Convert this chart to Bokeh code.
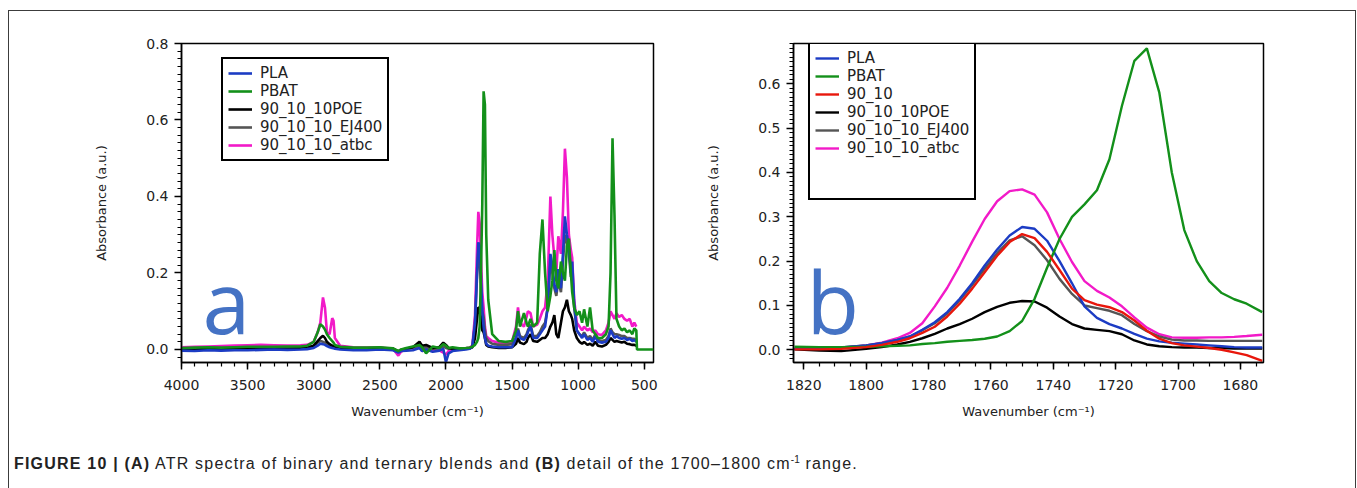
from bokeh.plotting import figure
from bokeh.models import (Range1d, Legend, LegendItem, Label, Div,
                          SingleIntervalTicker, PrintfTickFormatter)
from bokeh.layouts import row, column
from bokeh.embed import file_html
from bokeh.resources import INLINE

# ---------------- panel (a): full ATR spectra ----------------
wn_a = [4000, 3900, 3800, 3700, 3600, 3500, 3400, 3300, 3200, 3100, 3050, 3000,
        2970, 2950, 2930, 2915, 2900, 2880, 2860, 2850, 2840, 2800, 2700, 2600,
        2500, 2400, 2360, 2340, 2300, 2250, 2200, 2180, 2150, 2100, 2050, 2020,
        2000, 1980, 1950, 1900, 1850, 1820, 1800, 1780, 1765, 1755, 1745, 1735,
        1725, 1715, 1705, 1695, 1680, 1650, 1600, 1550, 1500, 1470, 1455, 1440,
        1410, 1390, 1380, 1360, 1340, 1310, 1290, 1270, 1250, 1230, 1210, 1195,
        1180, 1165, 1150, 1130, 1115, 1100, 1085, 1070, 1055, 1045, 1030, 1010,
        990, 970, 955, 930, 910, 890, 870, 850, 820, 790, 770, 755, 740, 725,
        710, 690, 670, 650, 630, 610, 590, 575, 560]

pla_a = [-0.003, -0.004, -0.002, -0.003, -0.002, -0.002, -0.001, 0.000, -0.001, 0.000, 0.001, 0.004,
         0.010, 0.015, 0.014, 0.012, 0.009, 0.006, 0.004, 0.003, 0.002, 0.000, -0.002, -0.002,
         0.000, -0.002, -0.008, -0.004, -0.003, -0.002, 0.004, -0.004, 0.000, -0.006, -0.003, 0.002,
         -0.033, -0.010, -0.004, -0.002, 0.000, 0.002, 0.008, 0.070, 0.200, 0.280, 0.270, 0.190,
         0.100, 0.060, 0.030, 0.015, 0.010, 0.008, 0.006, 0.006, 0.006, 0.030, 0.050, 0.030,
         0.025, 0.035, 0.045, 0.060, 0.030, 0.030, 0.040, 0.050, 0.060, 0.110, 0.250, 0.220,
         0.170, 0.150, 0.210, 0.160, 0.250, 0.348, 0.300, 0.270, 0.200, 0.230, 0.120, 0.050,
         0.040, 0.030, 0.040, 0.025, 0.030, 0.020, 0.035, 0.020, 0.018, 0.020, 0.030, 0.050, 0.040, 0.030,
         0.035, 0.030, 0.028, 0.030, 0.025, 0.028, 0.022, 0.025, 0.020]

pbat_a = [0.004, 0.005, 0.006, 0.005, 0.006, 0.007, 0.007, 0.007, 0.008, 0.008, 0.010, 0.020,
          0.045, 0.066, 0.060, 0.052, 0.040, 0.030, 0.022, 0.018, 0.012, 0.007, 0.005, 0.005,
          0.006, 0.003, -0.004, 0.000, 0.004, 0.008, 0.012, 0.006, -0.010, 0.008, 0.004, 0.014,
          0.010, 0.004, 0.006, 0.003, 0.004, 0.005, 0.007, 0.012, 0.020, 0.030, 0.060, 0.200,
          0.380, 0.675, 0.640, 0.300, 0.130, 0.040, 0.022, 0.020, 0.022, 0.050, 0.100, 0.060,
          0.095, 0.070, 0.060, 0.080, 0.060, 0.070, 0.250, 0.340, 0.200, 0.100, 0.140, 0.180,
          0.260, 0.180, 0.160, 0.230, 0.200, 0.180, 0.270, 0.290, 0.200, 0.150, 0.110, 0.090,
          0.100, 0.070, 0.105, 0.060, 0.110, 0.050, 0.040, 0.030, 0.030, 0.040, 0.060, 0.200, 0.552, 0.350,
          0.080, 0.060, 0.050, 0.055, 0.045, 0.050, 0.040, 0.055, 0.050]
wn_a_tail = [555, 430]
pbat_a_tail = [0.0, 0.0]

poe_a = [0.002, 0.001, 0.002, 0.001, 0.002, 0.003, 0.003, 0.002, 0.001, 0.003, 0.004, 0.010,
         0.022, 0.030, 0.036, 0.030, 0.020, 0.014, 0.010, 0.008, 0.006, 0.004, 0.003, 0.002,
         0.004, 0.002, -0.006, -0.002, 0.002, 0.006, 0.020, 0.010, 0.012, 0.004, 0.006, 0.018,
         0.012, 0.004, 0.002, 0.001, 0.002, 0.003, 0.006, 0.030, 0.080, 0.110, 0.108, 0.080,
         0.050, 0.045, 0.030, 0.012, 0.008, 0.006, 0.004, 0.004, 0.006, 0.015, 0.030, 0.018,
         0.014, 0.020, 0.030, 0.040, 0.022, 0.020, 0.025, 0.030, 0.030, 0.040, 0.060, 0.070,
         0.090, 0.040, 0.030, 0.070, 0.100, 0.110, 0.130, 0.100, 0.090, 0.080, 0.050, 0.030,
         0.020, 0.015, 0.020, 0.012, 0.015, 0.010, 0.020, 0.010, 0.008, 0.012, 0.020, 0.030, 0.025, 0.020,
         0.022, 0.020, 0.018, 0.020, 0.015, 0.014, 0.012, 0.012, 0.010]

ej400_a = [0.001, 0.002, 0.003, 0.002, 0.003, 0.004, 0.004, 0.004, 0.004, 0.005, 0.006, 0.010,
           0.018, 0.022, 0.020, 0.018, 0.014, 0.010, 0.008, 0.007, 0.006, 0.004, 0.003, 0.003,
           0.004, 0.002, -0.005, -0.001, 0.002, 0.005, 0.010, 0.004, 0.006, 0.002, 0.003, 0.008,
           0.004, 0.002, 0.002, 0.002, 0.002, 0.003, 0.008, 0.065, 0.190, 0.255, 0.240, 0.160,
           0.100, 0.085, 0.050, 0.030, 0.022, 0.015, 0.012, 0.012, 0.014, 0.030, 0.055, 0.035,
           0.030, 0.040, 0.050, 0.065, 0.035, 0.035, 0.045, 0.060, 0.070, 0.110, 0.230, 0.200,
           0.160, 0.140, 0.180, 0.150, 0.230, 0.300, 0.280, 0.250, 0.190, 0.200, 0.110, 0.050,
           0.040, 0.035, 0.045, 0.030, 0.035, 0.025, 0.040, 0.025, 0.022, 0.025, 0.035, 0.055, 0.045, 0.040,
           0.040, 0.038, 0.035, 0.035, 0.030, 0.030, 0.028, 0.028, 0.025]

atbc_a = [0.006, 0.007, 0.008, 0.009, 0.010, 0.011, 0.012, 0.011, 0.010, 0.011, 0.012, 0.020,
          0.045, 0.070, 0.136, 0.110, 0.045, 0.040, 0.082, 0.075, 0.030, 0.010, 0.006, 0.005,
          0.005, 0.002, -0.016, -0.006, 0.002, 0.004, 0.006, -0.004, 0.002, -0.002, -0.002, -0.008,
          -0.014, -0.004, 0.000, 0.002, 0.003, 0.005, 0.010, 0.090, 0.260, 0.360, 0.330, 0.240,
          0.150, 0.110, 0.060, 0.035, 0.030, 0.022, 0.018, 0.016, 0.020, 0.060, 0.110, 0.070,
          0.060, 0.085, 0.100, 0.095, 0.060, 0.065, 0.080, 0.100, 0.110, 0.180, 0.400, 0.300,
          0.240, 0.200, 0.296, 0.250, 0.360, 0.525, 0.450, 0.300, 0.260, 0.240, 0.130, 0.070,
          0.060, 0.050, 0.060, 0.050, 0.055, 0.045, 0.050, 0.040, 0.038, 0.050, 0.070, 0.100, 0.090, 0.080,
          0.095, 0.085, 0.090, 0.080, 0.075, 0.080, 0.060, 0.070, 0.060]

# ---------------- panel (b): carbonyl region ----------------
wn_b = [1823, 1815, 1808, 1800, 1795, 1790, 1786, 1782, 1778, 1774, 1770, 1766,
        1762, 1758, 1754, 1750, 1746, 1742, 1738, 1734, 1730, 1726, 1722, 1718,
        1714, 1710, 1706, 1702, 1698, 1694, 1690, 1686, 1682, 1678, 1673]

pla_b = [0.002, 0.003, 0.005, 0.010, 0.015, 0.022, 0.030, 0.045, 0.062, 0.085, 0.115, 0.150,
         0.190, 0.226, 0.258, 0.277, 0.273, 0.246, 0.200, 0.150, 0.098, 0.072, 0.058, 0.048,
         0.036, 0.025, 0.019, 0.016, 0.014, 0.012, 0.010, 0.008, 0.006, 0.005, 0.005]
pbat_b = [0.007, 0.006, 0.006, 0.007, 0.008, 0.009, 0.010, 0.013, 0.015, 0.018, 0.020, 0.022,
          0.025, 0.030, 0.042, 0.065, 0.115, 0.185, 0.250, 0.300, 0.328, 0.360, 0.430, 0.550,
          0.652, 0.680, 0.580, 0.400, 0.270, 0.200, 0.155, 0.128, 0.114, 0.104, 0.085]
b9010_b = [0.001, 0.001, 0.002, 0.006, 0.011, 0.018, 0.026, 0.038, 0.052, 0.075, 0.104, 0.138,
           0.175, 0.212, 0.243, 0.261, 0.252, 0.221, 0.180, 0.138, 0.112, 0.102, 0.096, 0.085,
           0.066, 0.043, 0.025, 0.015, 0.010, 0.007, 0.004, 0.000, -0.006, -0.012, -0.025]
poe_b = [0.001, -0.002, -0.003, 0.002, 0.006, 0.012, 0.018, 0.026, 0.036, 0.048, 0.058, 0.070,
         0.085, 0.097, 0.106, 0.110, 0.109, 0.095, 0.075, 0.058, 0.048, 0.045, 0.042, 0.035,
         0.021, 0.012, 0.008, 0.006, 0.005, 0.005, 0.004, 0.004, 0.003, 0.003, 0.003]
ej400_b = [0.002, 0.003, 0.005, 0.010, 0.015, 0.022, 0.030, 0.044, 0.060, 0.082, 0.112, 0.146,
           0.183, 0.218, 0.247, 0.256, 0.236, 0.202, 0.160, 0.126, 0.100, 0.094, 0.088, 0.078,
           0.058, 0.042, 0.030, 0.023, 0.021, 0.021, 0.020, 0.020, 0.020, 0.020, 0.020]
atbc_b = [0.002, 0.003, 0.004, 0.010, 0.016, 0.026, 0.038, 0.060, 0.098, 0.140, 0.190, 0.244,
          0.295, 0.335, 0.358, 0.362, 0.350, 0.310, 0.250, 0.198, 0.155, 0.133, 0.118, 0.098,
          0.073, 0.050, 0.035, 0.028, 0.027, 0.027, 0.028, 0.028, 0.029, 0.031, 0.034]

C_PLA, C_PBAT, C_POE, C_EJ, C_ATBC, C_9010 = "#1c3cc4", "#13901a", "#000000", "#555555", "#f21ac8", "#e8170c"
FONT = "DejaVu Sans"


def style(p, xint, xminor, yint, yminor):
    p.grid.visible = False
    p.outline_line_color = "black"
    p.outline_line_width = 1.5
    p.background_fill_color = "white"
    p.border_fill_color = "white"
    p.xaxis.ticker = SingleIntervalTicker(interval=xint, num_minor_ticks=xminor)
    p.yaxis.ticker = SingleIntervalTicker(interval=yint, num_minor_ticks=yminor)
    p.yaxis.formatter = PrintfTickFormatter(format="%.1f")
    for ax in (p.xaxis[0], p.yaxis[0]):
        ax.axis_line_color = "black"
        ax.axis_line_width = 1.5
        ax.major_tick_line_color = "black"
        ax.major_tick_line_width = 1.5
        ax.minor_tick_line_color = "black"
        ax.minor_tick_line_width = 1.2
        ax.major_tick_in = 0
        ax.major_tick_out = 7
        ax.minor_tick_in = 0
        ax.minor_tick_out = 4
        ax.major_label_text_font = FONT
        ax.major_label_text_font_size = "14px"
        ax.major_label_text_color = "#222222"
        ax.axis_label_text_font = FONT
        ax.axis_label_text_font_size = "13px"
        ax.axis_label_text_font_style = "normal"
        ax.axis_label_text_color = "#222222"
    p.xaxis.axis_label = "Wavenumber (cm\u207b\u00b9)"
    p.yaxis.axis_label = "Absorbance (a.u.)"
    p.xaxis.major_label_standoff = 10
    p.xaxis.axis_label_standoff = 11
    p.yaxis.major_label_standoff = 6
    p.yaxis.axis_label_standoff = 34


# ---- figure a ----
p1 = figure(width=700, height=430, output_backend="svg", toolbar_location=None,
            x_range=Range1d(4000, 430), y_range=Range1d(-0.034, 0.8),
            min_border_left=181, min_border_right=47, min_border_top=41, min_border_bottom=68)
style(p1, 500, 5, 0.2, 10)

LW = 2.6
r_atbc = p1.line(wn_a, atbc_a, line_color=C_ATBC, line_width=LW)
r_ej = p1.line(wn_a, ej400_a, line_color=C_EJ, line_width=LW)
r_poe = p1.line(wn_a, poe_a, line_color=C_POE, line_width=LW)
r_pla = p1.line(wn_a, pla_a, line_color=C_PLA, line_width=LW)
r_pbat = p1.line(wn_a + wn_a_tail, pbat_a + pbat_a_tail, line_color=C_PBAT, line_width=LW)

leg1 = Legend(items=[LegendItem(label="PLA", renderers=[r_pla]),
                     LegendItem(label="PBAT", renderers=[r_pbat]),
                     LegendItem(label="90_10_10POE", renderers=[r_poe]),
                     LegendItem(label="90_10_10_EJ400", renderers=[r_ej]),
                     LegendItem(label="90_10_10_atbc", renderers=[r_atbc])],
              location=(40, 201))
p1.add_layout(leg1)

p1.add_layout(Label(x=21, y=62, x_units="screen", y_units="screen", text="a",
                    text_font="Open Sans", text_font_size="86px", text_color="#4472c4",
                    text_baseline="alphabetic"))

# ---- figure b ----
p2 = figure(width=657, height=430, output_backend="svg", toolbar_location=None,
            x_range=Range1d(1823.3, 1672.6), y_range=Range1d(-0.0287, 0.691),
            min_border_left=93, min_border_right=94, min_border_top=43, min_border_bottom=68)
style(p2, 20, 4, 0.1, 10)

LW2 = 2.4
s_atbc = p2.line(wn_b, atbc_b, line_color=C_ATBC, line_width=LW2)
s_ej = p2.line(wn_b, ej400_b, line_color=C_EJ, line_width=LW2)
s_poe = p2.line(wn_b, poe_b, line_color=C_POE, line_width=LW2)
s_pla = p2.line(wn_b, pla_b, line_color=C_PLA, line_width=LW2)
s_pbat = p2.line(wn_b, pbat_b, line_color=C_PBAT, line_width=LW2)
s_9010 = p2.line(wn_b, b9010_b, line_color=C_9010, line_width=LW2)
s_blank1 = p2.line([], [], line_alpha=0)
s_blank2 = p2.line([], [], line_alpha=0)

leg2 = Legend(items=[LegendItem(label="PLA", renderers=[s_pla]),
                     LegendItem(label="PBAT", renderers=[s_pbat]),
                     LegendItem(label="90_10", renderers=[s_9010]),
                     LegendItem(label="90_10_10POE", renderers=[s_poe]),
                     LegendItem(label="90_10_10_EJ400", renderers=[s_ej]),
                     LegendItem(label="90_10_10_atbc", renderers=[s_atbc]),
                     LegendItem(label=" ", renderers=[s_blank1]),
                     LegendItem(label=" ", renderers=[s_blank2])],
              location=(15, 162))
p2.add_layout(leg2)

p2.add_layout(Label(x=13, y=62, x_units="screen", y_units="screen", text="b",
                    text_font="Open Sans", text_font_size="86px", text_color="#4472c4",
                    text_baseline="alphabetic"))

for lg in (leg1, leg2):
    lg.border_line_color = "black"
    lg.border_line_width = 2
    lg.border_line_alpha = 1.0
    lg.background_fill_color = "white"
    lg.background_fill_alpha = 1
    lg.label_text_font = FONT
    lg.label_text_font_size = "15px"
    lg.label_text_color = "#222222"
    lg.label_height = 18
    lg.glyph_height = 18
    lg.glyph_width = 24
    lg.label_standoff = 8
    lg.spacing = 0
    lg.padding = 5
    lg.margin = 0

caption = Div(width=1357, height=58, text=(
    '<div style="position:fixed;left:8px;top:10px;width:1348px;height:600px;'
    'border:1.5px solid #3c3c3c;box-sizing:border-box;pointer-events:none"></div>'
    '<div style="margin:18px 0 0 9px;font-family:\'Liberation Sans\',Arial,sans-serif;'
    'font-size:16px;letter-spacing:1.2px;color:#222;white-space:nowrap">'
    '<b>FIGURE 10 | (A)</b> ATR spectra of binary and ternary blends and <b>(B)</b> '
    'detail of the 1700\u20131800 cm<sup style="font-size:10px;letter-spacing:0">-1</sup> range.</div>'))

layout = column(row(p1, p2), caption)
open("out.html", "w").write(file_html(layout, INLINE))
